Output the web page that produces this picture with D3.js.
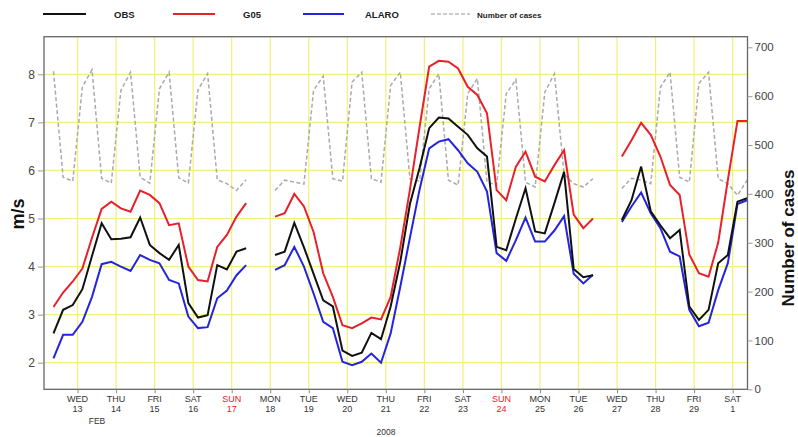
<!DOCTYPE html>
<html><head><meta charset="utf-8">
<script src="https://cdn.jsdelivr.net/npm/d3@7"></script>
<style>body{margin:0;background:#fff}svg{display:block;font-family:"Liberation Sans",Arial,sans-serif}</style>
</head><body><svg id="c" width="798" height="437"></svg>
<script>
// ---- data ----
const dayNames = ["WED","THU","FRI","SAT","SUN","MON","TUE","WED","THU","FRI","SAT","SUN","MON","TUE","WED","THU","FRI","SAT"];
const dayNums  = ["13","14","15","16","17","18","19","20","21","22","23","24","25","26","27","28","29","1"];
const leftTicks = [2,3,4,5,6,7,8];
const rightTicks = [0,100,200,300,400,500,600,700];
const obs = [2.61,3.10,3.20,3.53,4.22,4.90,4.57,4.58,4.61,5.02,4.45,4.28,4.14,4.45,3.24,2.94,2.99,4.03,3.94,4.31,4.38,
  null,null,
  4.24,4.31,4.91,4.40,3.85,3.30,3.17,2.25,2.14,2.21,2.62,2.49,3.17,4.10,5.30,6.05,6.88,7.10,7.08,6.91,6.74,6.46,6.29,4.41,4.34,5.00,5.63,4.73,4.69,5.32,5.97,3.95,3.78,3.82,
  null,null,
  4.97,5.38,6.08,5.15,4.86,4.59,4.76,3.17,2.89,3.10,4.07,4.24,5.35,5.42];
const g05 = [3.16,3.46,3.69,3.96,4.60,5.20,5.35,5.21,5.14,5.58,5.49,5.32,4.86,4.90,4.00,3.72,3.69,4.41,4.66,5.04,5.32,
  null,null,
  5.04,5.11,5.51,5.25,4.72,3.86,3.37,2.78,2.72,2.82,2.94,2.90,3.37,4.40,5.60,6.90,8.16,8.28,8.26,8.12,7.74,7.57,7.19,5.59,5.38,6.08,6.39,5.87,5.77,6.11,6.42,5.08,4.80,5.00,
  null,null,
  6.29,6.63,6.99,6.74,6.29,5.70,5.49,4.25,3.86,3.79,4.50,5.80,7.03,7.03];
const alaro = [2.09,2.58,2.58,2.85,3.37,4.05,4.10,4.00,3.91,4.24,4.14,4.07,3.72,3.65,2.96,2.72,2.74,3.34,3.50,3.82,4.03,
  null,null,
  3.93,4.03,4.41,4.00,3.44,2.85,2.72,2.02,1.95,2.02,2.19,2.00,2.61,3.58,4.60,5.60,6.46,6.60,6.65,6.42,6.15,5.97,5.56,4.28,4.12,4.55,5.02,4.52,4.52,4.75,5.05,3.85,3.65,3.83,
  null,null,
  4.93,5.25,5.54,5.11,4.80,4.31,4.21,3.10,2.76,2.83,3.51,4.07,5.30,5.38];
const cases = [651,434,426,619,654,432,422,612,649,434,422,615,649,433,422,613,646,429,421,407,429,
  null,null,
  407,428,424,420,612,641,431,426,629,649,431,424,622,649,431,426,615,646,428,418,605,636,424,418,605,634,424,414,608,646,440,421,414,431,
  null,null,
  411,432,428,421,618,649,434,424,626,649,431,421,397,428];

// ---- time ----
const H = 3600e3;
const t0 = Date.UTC(2008,1,12,21);           // first 6-hourly sample
const times = obs.map((_, i) => new Date(t0 + i*6*H));
const tickDates = dayNums.map((_, k) => new Date(Date.UTC(2008,1,13,12) + k*24*H));

// ---- layout ----
const svg = d3.select("#c");
const L = 44, R = 747.5, T = 36.7, B = 389.3;
const x = d3.scaleTime().domain([new Date(Date.UTC(2008,1,12,15,6)), new Date(Date.UTC(2008,2,1,21,15))]).range([L, R]);
const y = d3.scaleLinear().domain([1.447, 8.782]).range([B, T]);
const y2 = d3.scaleLinear().domain([0, 721.7]).range([B, T]);

const grid = "#f0f07a";
const g = svg.append("g");
// grid
g.selectAll(".hg").data(leftTicks).enter().append("line")
  .attr("x1", L).attr("x2", R).attr("y1", d => y(d)).attr("y2", d => y(d))
  .attr("stroke", grid).attr("stroke-width", 1.2);
g.selectAll(".vg").data(tickDates).enter().append("line")
  .attr("x1", d => x(d)).attr("x2", d => x(d)).attr("y1", T).attr("y2", B)
  .attr("stroke", grid).attr("stroke-width", 1.2);

// lines
const mk = (ys, arr) => d3.line().defined(d => d != null)
  .x((d, i) => x(times[i])).y(d => ys(d))(arr);
g.append("path").attr("d", mk(y2, cases)).attr("fill","none").attr("stroke","#aaaaaa")
  .attr("stroke-width",1.5).attr("stroke-dasharray","4,2.5");
g.append("path").attr("d", mk(y, g05)).attr("fill","none").attr("stroke","#e8202a").attr("stroke-width",2);
g.append("path").attr("d", mk(y, alaro)).attr("fill","none").attr("stroke","#2424e0").attr("stroke-width",2);
g.append("path").attr("d", mk(y, obs)).attr("fill","none").attr("stroke","#111").attr("stroke-width",2);

// frame
svg.append("rect").attr("x", L).attr("y", T).attr("width", R-L).attr("height", B-T)
  .attr("fill","none").attr("stroke","#666").attr("stroke-width",1.3);

// left axis
const ax = svg.append("g").attr("transform", `translate(${L},0)`)
  .call(d3.axisLeft(y).tickValues(leftTicks).tickSize(6).tickPadding(3).tickFormat(d3.format("d")));
ax.select(".domain").remove();
ax.selectAll("line").attr("stroke","#999");
ax.selectAll("text").attr("font-size",12).attr("fill","#444");

// right axis
const ax2 = svg.append("g").attr("transform", `translate(${R},0)`)
  .call(d3.axisRight(y2).tickValues(rightTicks).tickSize(5).tickPadding(2).tickFormat(d3.format("d")));
ax2.select(".domain").remove();
ax2.selectAll("line").attr("stroke","#999");
ax2.selectAll("text").attr("font-size",11.5).attr("fill","#444");

// bottom axis
const ax3 = svg.append("g").attr("transform", `translate(0,${B})`)
  .call(d3.axisBottom(x).tickValues(tickDates).tickSize(4).tickFormat(""));
ax3.select(".domain").remove();
ax3.selectAll("line").attr("stroke","#888");
const lab = svg.append("g").attr("font-size",9).attr("text-anchor","middle");
tickDates.forEach((d, k) => {
  const col = dayNames[k] === "SUN" ? "#e82020" : "#333";
  lab.append("text").attr("x", x(d)).attr("y", 401.5).attr("fill", col).text(dayNames[k]);
  lab.append("text").attr("x", x(d)).attr("y", 411.5).attr("fill", col).text(dayNums[k]);
});
lab.append("text").attr("x", 97).attr("y", 424).attr("fill","#333").attr("font-size",8.5).text("FEB");
lab.append("text").attr("x", 386).attr("y", 435).attr("fill","#333").attr("font-size",8.5).text("2008");

// axis titles
svg.append("text").attr("transform","translate(24,214) rotate(-90)").attr("text-anchor","middle")
  .attr("font-size",18).attr("font-weight","bold").attr("fill","#111").text("m/s");
svg.append("text").attr("transform","translate(794,238) rotate(-90)").attr("text-anchor","middle")
  .attr("font-size",17).attr("font-weight","bold").attr("fill","#111").text("Number of cases");

// legend
const leg = [
  {name:"OBS", color:"#111", x1:43, x2:86, tx:114, dash:null, fs:9.5},
  {name:"G05", color:"#e8202a", x1:173, x2:215, tx:243, dash:null, fs:9.5},
  {name:"ALARO", color:"#2424e0", x1:303, x2:344, tx:365, dash:null, fs:9.5},
  {name:"Number of cases", color:"#bbbbbb", x1:431, x2:470, tx:477, dash:"4,2", fs:8}
];
const lg = svg.append("g");
leg.forEach(l => {
  lg.append("line").attr("x1", l.x1).attr("x2", l.x2).attr("y1", 14).attr("y2", 14)
    .attr("stroke", l.color).attr("stroke-width", l.dash ? 1.5 : 2).attr("stroke-dasharray", l.dash);
  lg.append("text").attr("x", l.tx).attr("y", 17.5).attr("font-size", l.fs).attr("font-weight","bold")
    .attr("fill","#222").text(l.name);
});
</script></body></html>
